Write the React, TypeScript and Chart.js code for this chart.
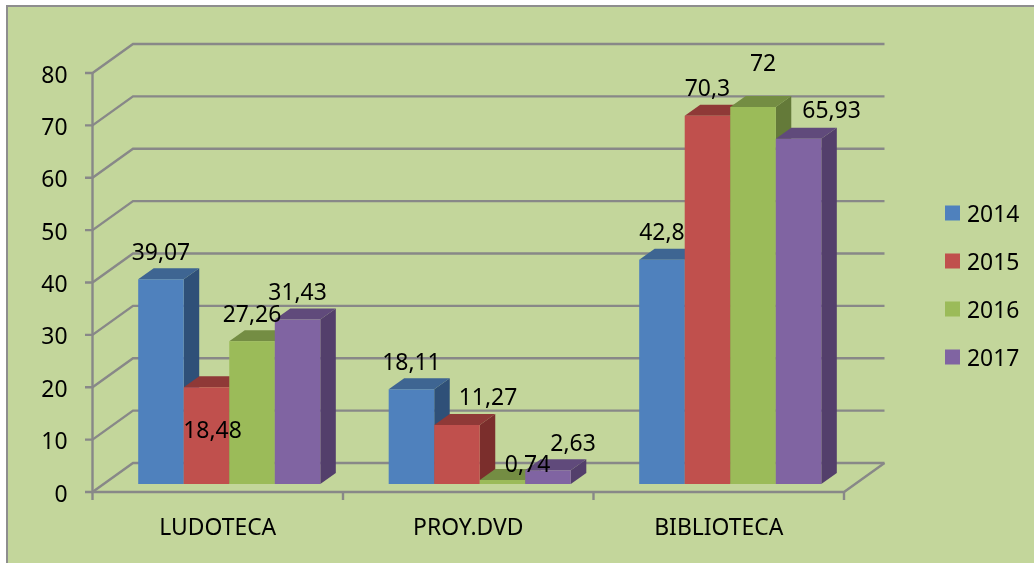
import React, { useEffect, useRef } from "react";
import { Chart, registerables } from "chart.js";

Chart.register(...registerables);

const categories = ["LUDOTECA", "PROY.DVD", "BIBLIOTECA"];
const seriesNames = ["2014", "2015", "2016", "2017"];
const values2014 = [39.07, 18.11, 42.8];
const values2015 = [18.48, 11.27, 70.3];
const values2016 = [27.26, 0.74, 72];
const values2017 = [31.43, 2.63, 65.93];
const frontColors = ["#4F81BD", "#C0504D", "#9BBB59", "#8064A2"];
const topColors = ["#3E6592", "#8F3937", "#748D43", "#604A7B"];
const sideColors = ["#2F5078", "#7B2E2C", "#647A39", "#533F6B"];
const yTicks = [0, 10, 20, 30, 40, 50, 60, 70, 80];

const FONT = '"Noto Sans", sans-serif';
const SIZE = 22.9;
const LINE = "#888888";
// depth of the back wall, of a bar, and where the bars stand on the floor
const WALL = { dx: 40.5, dy: -29 };
const BAR_DEPTH = { dx: 15.5, dy: -11 };
const BAR_SHIFT = { dx: 11.5, dy: -8 };
// label nudges, keyed "dataset:category", for the labels moved off their default spot
const LABEL_NUDGE: Record<string, [number, number]> = {
  "1:0": [6, 70],
  "1:1": [31, 0],
  "2:1": [25, 11],
  "3:1": [25, 0],
  "2:2": [10, -16],
  "3:2": [33, -1],
};

const decimal = (v: number) => String(v).replace(".", ",");

const scene = {
  id: "scene",
  beforeDraw(chart: any) {
    const { ctx, width, height } = chart;
    ctx.save();
    ctx.fillStyle = "#FFFFFF";
    ctx.fillRect(0, 0, width, height);
    ctx.fillStyle = "#C3D69B";
    ctx.strokeStyle = "#8E8E8E";
    ctx.lineWidth = 2;
    ctx.fillRect(7, 6, width, height);
    ctx.strokeRect(7, 6, width, height);
    ctx.restore();
  },
  beforeDatasetsDraw(chart: any) {
    const { ctx, chartArea: a, scales } = chart;
    const { y } = scales;
    ctx.save();
    ctx.strokeStyle = LINE;
    ctx.lineWidth = 2.4;
    ctx.lineCap = "butt";
    ctx.lineJoin = "miter";
    yTicks.forEach((t) => {
      const py = y.getPixelForValue(t);
      ctx.beginPath();
      ctx.moveTo(a.left - 7.5, py);
      ctx.lineTo(a.left, py);
      ctx.lineTo(a.left + WALL.dx, py + WALL.dy);
      ctx.lineTo(a.right + WALL.dx, py + WALL.dy);
      ctx.stroke();
    });
    ctx.beginPath();
    ctx.moveTo(a.left, a.top);
    ctx.lineTo(a.left, a.bottom);
    ctx.lineTo(a.right, a.bottom);
    ctx.lineTo(a.right + WALL.dx, a.bottom + WALL.dy);
    ctx.stroke();
    const step = (a.right - a.left) / categories.length;
    for (let i = 0; i <= categories.length; i++) {
      ctx.beginPath();
      ctx.moveTo(a.left + i * step, a.bottom);
      ctx.lineTo(a.left + i * step, a.bottom + 8);
      ctx.stroke();
    }
    ctx.restore();
  },
  // the library would paint the series right-to-left; they are painted left-to-right below
  beforeDatasetDraw() {
    return false;
  },
  afterDatasetsDraw(chart: any) {
    const { ctx } = chart;
    chart.data.datasets.forEach((_: any, i: number) => {
      const meta = chart.getDatasetMeta(i);
      ctx.save();
      ctx.translate(BAR_SHIFT.dx, BAR_SHIFT.dy);
      meta.data.forEach((bar: any) => {
        const left = bar.x - bar.width / 2;
        const right = bar.x + bar.width / 2;
        const top = bar.y;
        const base = bar.base;
        const { dx, dy } = BAR_DEPTH;
        ctx.fillStyle = sideColors[i];
        ctx.beginPath();
        ctx.moveTo(right, top);
        ctx.lineTo(right + dx, top + dy);
        ctx.lineTo(right + dx, base + dy);
        ctx.lineTo(right, base);
        ctx.closePath();
        ctx.fill();
        ctx.fillStyle = topColors[i];
        ctx.beginPath();
        ctx.moveTo(left, top);
        ctx.lineTo(left + dx, top + dy);
        ctx.lineTo(right + dx, top + dy);
        ctx.lineTo(right, top);
        ctx.closePath();
        ctx.fill();
      });
      meta.controller.draw();
      ctx.restore();
    });

    ctx.save();
    ctx.font = `${SIZE}px ${FONT}`;
    ctx.fillStyle = "#000000";
    ctx.textBaseline = "middle";
    ctx.textAlign = "center";
    chart.data.datasets.forEach((ds: any, i: number) => {
      chart.getDatasetMeta(i).data.forEach((bar: any, c: number) => {
        const [nx, ny] = LABEL_NUDGE[`${i}:${c}`] || [0, 0];
        ctx.fillText(
          decimal(ds.data[c]),
          bar.x + BAR_SHIFT.dx + nx,
          bar.y + BAR_SHIFT.dy - 26 + ny
        );
      });
    });
    // legend
    ctx.textAlign = "left";
    seriesNames.forEach((name, i) => {
      const cy = 213 + i * 48;
      ctx.fillStyle = frontColors[i];
      ctx.fillRect(945, cy - 7.5, 15, 15);
      ctx.fillStyle = "#000000";
      ctx.fillText(name, 967, cy + 2);
    });
    ctx.restore();
  },
};

const allValues = [values2014, values2015, values2016, values2017];

export default function App() {
  const ref = useRef<HTMLCanvasElement>(null);
  useEffect(() => {
    document.body.style.margin = "0";
    const chart = new Chart(ref.current!, {
      type: "bar",
      data: {
        labels: categories,
        datasets: seriesNames.map((label, i) => ({
          label,
          data: allValues[i],
          backgroundColor: frontColors[i],
          clip: false,
          categoryPercentage: 0.727,
          barPercentage: 1,
        })),
      },
      options: {
        responsive: false,
        animation: false,
        layout: { padding: { top: 73, right: 190, bottom: 0, left: 0 } },
        plugins: { legend: { display: false }, tooltip: { enabled: false }, title: { display: false } },
        scales: {
          x: {
            grid: { display: false },
            border: { display: false },
            ticks: {
              font: { family: FONT, size: SIZE },
              color: "#000000",
              padding: 15,
              maxRotation: 0,
            },
            afterFit: (s: any) => {
              s.height = 71;
            },
          },
          y: {
            min: 0,
            max: 80,
            grid: { display: false },
            border: { display: false },
            ticks: {
              stepSize: 10,
              font: { family: FONT, size: SIZE },
              color: "#000000",
              padding: 17,
              labelOffset: 3,
            },
            afterFit: (s: any) => {
              s.width = 92.5;
            },
          },
        },
      } as any,
      plugins: [scene],
    });
    return () => chart.destroy();
  }, []);
  return <canvas ref={ref} width={1034} height={563} style={{ display: "block" }} />;
}
